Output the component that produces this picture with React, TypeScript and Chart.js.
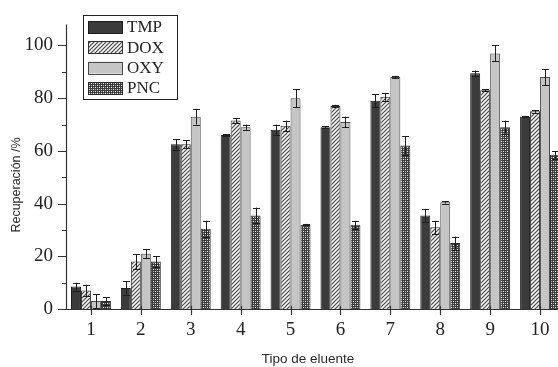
import React, { useEffect, useRef } from "react";
import { Chart, registerables } from "chart.js";

Chart.register(...registerables);

const categories = ["1", "2", "3", "4", "5", "6", "7", "8", "9", "10"];
const seriesNames = ["TMP", "DOX", "OXY", "PNC"];
const tmp = [8.5, 8, 62.5, 66, 68, 69, 79, 35.5, 89.5, 73];
const tmpErr = [1.5, 2.5, 2, 0.3, 2, 0.3, 2.5, 2.5, 1, 0.3];
const dox = [7, 18, 62.5, 71.5, 69.5, 77, 80.5, 31, 83, 75];
const doxErr = [2.2, 2.8, 1.5, 1, 2, 0.5, 1.5, 2.5, 0.3, 0.5];
const oxy = [3, 21, 73, 69, 80, 71, 88, 40.5, 97, 88];
const oxyErr = [2.6, 1.8, 3, 1, 3.5, 2, 0.5, 0.5, 3, 3];
const pnc = [3, 18, 30.5, 35.5, 32, 32, 62, 25, 69, 58.5];
const pncErr = [1.5, 2, 3, 3, 0.3, 1.5, 3.5, 2.5, 2.5, 1.5];
const yMajorTicks = [0, 20, 40, 60, 80, 100];
const yMinorTicks = [10, 30, 50, 70, 90];
const yTitle = "Recuperación /%";
const xTitle = "Tipo de eluente";

function makeHatch(): CanvasPattern | string {
  const c = document.createElement("canvas");
  c.width = 4;
  c.height = 4;
  const g = c.getContext("2d");
  if (!g) return "#ffffff";
  g.fillStyle = "#f6f6f6";
  g.fillRect(0, 0, 4, 4);
  g.strokeStyle = "#4a4a4a";
  g.lineWidth = 1.2;
  g.beginPath();
  g.moveTo(-1, 5);
  g.lineTo(5, -1);
  g.moveTo(-1, 1);
  g.lineTo(1, -1);
  g.moveTo(3, 5);
  g.lineTo(5, 3);
  g.stroke();
  return g.createPattern(c, "repeat") || "#ffffff";
}

function makeCross(): CanvasPattern | string {
  const c = document.createElement("canvas");
  c.width = 4;
  c.height = 4;
  const g = c.getContext("2d");
  if (!g) return "#777";
  g.fillStyle = "#3c3c3c";
  g.fillRect(0, 0, 4, 4);
  g.fillStyle = "#f2f2f2";
  g.fillRect(1, 1, 1, 1);
  g.fillRect(3, 3, 1, 1);
  g.fillStyle = "#b0b0b0";
  g.fillRect(3, 1, 1, 1);
  g.fillRect(1, 3, 1, 1);
  return g.createPattern(c, "repeat") || "#777";
}

export default function App() {
  const ref = useRef<HTMLCanvasElement | null>(null);

  useEffect(() => {
    if (!ref.current) return;
    const hatch = makeHatch();
    const cross = makeCross();
    const fills: any[] = ["#3b3b3b", hatch, "#c5c5c5", cross];
    const borders = ["#1c1c1c", "#333333", "#4a4a4a", "#2a2a2a"];
    const values = [tmp, dox, oxy, pnc];
    const errs = [tmpErr, doxErr, oxyErr, pncErr];

    const customDraw = {
      id: "customDraw",
      afterDatasetsDraw(chart: any) {
        const ctx = chart.ctx;
        const y = chart.scales.y;
        ctx.save();
        ctx.strokeStyle = "#1e1e1e";
        ctx.lineWidth = 1;
        values.forEach((vals, di) => {
          const meta = chart.getDatasetMeta(di);
          meta.data.forEach((bar: any, i: number) => {
            const v = vals[i];
            const e = errs[di][i];
            const x = Math.round(bar.x) + 0.5;
            const yt = y.getPixelForValue(v + e);
            const yb = y.getPixelForValue(Math.max(0, v - e));
            ctx.beginPath();
            ctx.moveTo(x, yt);
            ctx.lineTo(x, yb);
            ctx.moveTo(x - 3.5, Math.round(yt) + 0.5);
            ctx.lineTo(x + 3.5, Math.round(yt) + 0.5);
            ctx.moveTo(x - 3.5, Math.round(yb) + 0.5);
            ctx.lineTo(x + 3.5, Math.round(yb) + 0.5);
            ctx.stroke();
          });
        });
        ctx.restore();
      },
      afterDraw(chart: any) {
        const ctx = chart.ctx;
        const area = chart.chartArea;
        const y = chart.scales.y;
        const x = chart.scales.x;
        ctx.save();
        ctx.strokeStyle = "#333333";
        ctx.lineWidth = 1.2;
        ctx.beginPath();
        ctx.moveTo(area.left + 0.5, area.top);
        ctx.lineTo(area.left + 0.5, area.bottom + 0.5);
        ctx.lineTo(chart.width, area.bottom + 0.5);
        ctx.stroke();
        ctx.beginPath();
        yMajorTicks.forEach((t) => {
          const py = Math.round(y.getPixelForValue(t)) + 0.5;
          ctx.moveTo(area.left - 8, py);
          ctx.lineTo(area.left, py);
        });
        yMinorTicks.forEach((t) => {
          const py = Math.round(y.getPixelForValue(t)) + 0.5;
          ctx.moveTo(area.left - 4, py);
          ctx.lineTo(area.left, py);
        });
        categories.forEach((_, i) => {
          const px = Math.round(x.getPixelForValue(i)) + 0.5;
          ctx.moveTo(px, area.bottom - 3);
          ctx.lineTo(px, area.bottom + 6);
        });
        ctx.stroke();

        const lx = 83, ly = 15, lw = 94, lh = 84;
        ctx.fillStyle = "#ffffff";
        ctx.fillRect(lx, ly, lw, lh);
        ctx.strokeStyle = "#222222";
        ctx.lineWidth = 1;
        ctx.strokeRect(lx + 0.5, ly + 0.5, lw, lh);
        seriesNames.forEach((name, i) => {
          const sy = 21 + i * 20.3;
          ctx.fillStyle = fills[i];
          ctx.fillRect(88, sy, 34, 12);
          ctx.strokeStyle = borders[i];
          ctx.strokeRect(88.5, Math.round(sy) + 0.5, 34, 12);
          ctx.fillStyle = "#222222";
          ctx.font = "17px 'Liberation Serif', 'Times New Roman', serif";
          ctx.textAlign = "left";
          ctx.textBaseline = "middle";
          ctx.fillText(name, 127, sy + 7);
        });

        ctx.fillStyle = "#2a2a2a";
        ctx.font = "12.5px 'Liberation Sans', Arial, sans-serif";
        ctx.textAlign = "center";
        ctx.textBaseline = "middle";
        ctx.save();
        ctx.translate(17, 185);
        ctx.rotate(-Math.PI / 2);
        ctx.fillText(yTitle, 0, 0);
        ctx.restore();
        ctx.font = "13.5px 'Liberation Sans', Arial, sans-serif";
        ctx.fillText(xTitle, 308, 359);
        ctx.restore();
      },
    };

    const chart = new Chart(ref.current, {
      type: "bar",
      data: {
        labels: categories,
        datasets: seriesNames.map((name, i) => ({
          label: name,
          data: values[i],
          backgroundColor: fills[i],
          borderColor: borders[i],
          borderWidth: 1,
          categoryPercentage: 0.8,
          barPercentage: 1.0,
        })),
      },
      options: {
        animation: false,
        responsive: false,
        devicePixelRatio: 1,
        layout: { padding: { top: 13, left: 0, right: 5, bottom: 0 } },
        plugins: { legend: { display: false }, tooltip: { enabled: false } },
        scales: {
          x: {
            offset: true,
            grid: { display: false, drawTicks: false },
            border: { display: false },
            ticks: {
              color: "#222222",
              padding: 10,
              maxRotation: 0,
              autoSkip: false,
              font: { family: "'Liberation Serif', 'Times New Roman', serif", size: 19 },
            },
            afterFit: (s: any) => {
              s.height = 58;
            },
          },
          y: {
            min: 0,
            max: 108,
            grid: { display: false, drawTicks: false },
            border: { display: false },
            afterBuildTicks: (s: any) => {
              s.ticks = yMajorTicks.map((v) => ({ value: v }));
            },
            ticks: {
              color: "#222222",
              padding: 13,
              font: { family: "'Liberation Serif', 'Times New Roman', serif", size: 19 },
            },
            afterFit: (s: any) => {
              s.width = 66;
            },
          },
        },
      },
      plugins: [customDraw],
    });
    return () => chart.destroy();
  }, []);

  return (
    <div
      style={{
        position: "fixed",
        left: 0,
        top: 0,
        width: 558,
        height: 367,
        overflow: "hidden",
        background: "#ffffff",
      }}
    >
      <canvas ref={ref} width={570} height={367} style={{ width: 570, height: 367, display: "block" }} />
    </div>
  );
}
